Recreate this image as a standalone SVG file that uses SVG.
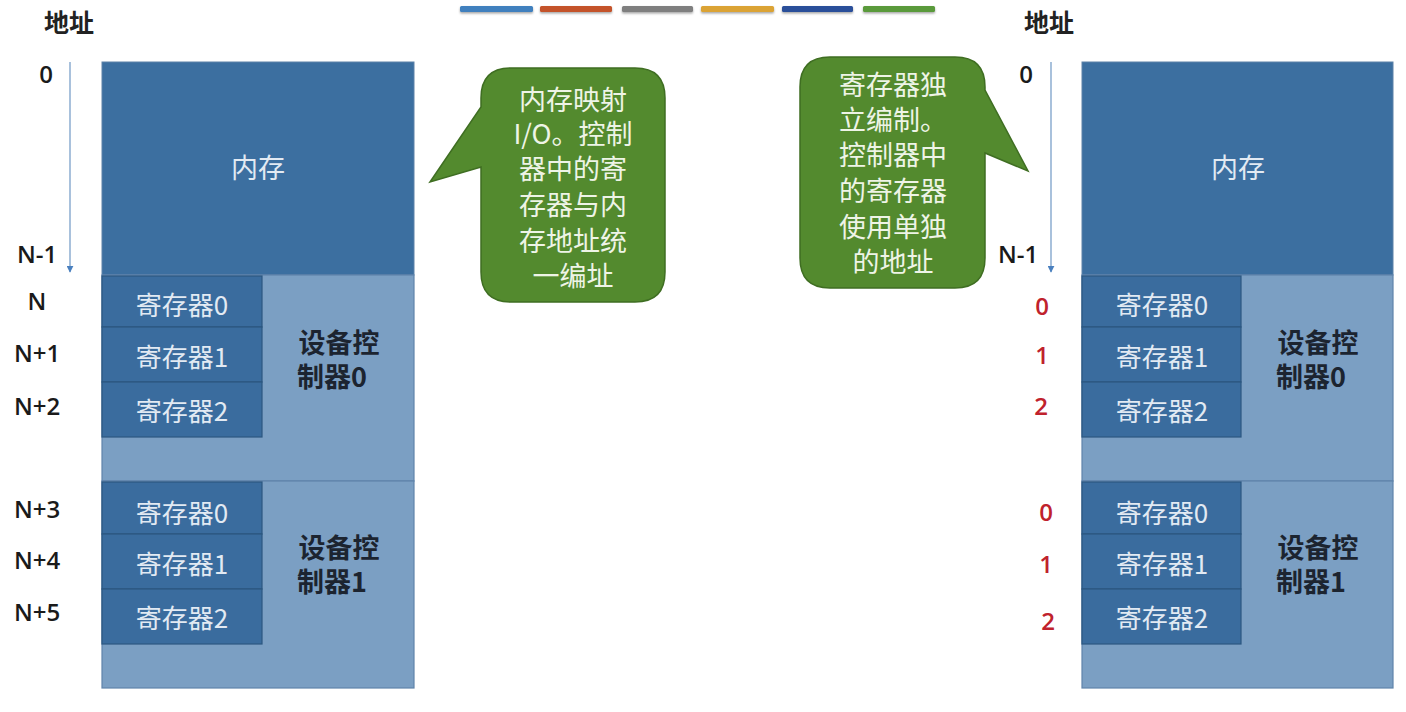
<svg xmlns="http://www.w3.org/2000/svg" width="1406" height="712" viewBox="0 0 1406 712">
<defs>
<style>
.bg{fill:#ffffff}
.mem{fill:#3c6fa0;stroke:#5c82a8;stroke-width:1}
.ctl{fill:#7b9fc3;stroke:#5f84ab;stroke-width:1.2}
.reg{fill:#3a6c9e;stroke:#2c5780;stroke-width:1.2}
.wt{font-family:"Noto Sans CJK SC","Noto Sans",sans-serif;fill:#e2eaf3;text-anchor:middle;dominant-baseline:central}
.dt{font-family:"Noto Sans CJK SC","Noto Sans",sans-serif;fill:#1c2430;text-anchor:middle;font-weight:bold;font-size:27px}
.lab{font-family:"Open Sans","Noto Sans CJK SC",sans-serif;fill:#1a1a1a;text-anchor:middle;dominant-baseline:central;font-size:24px;font-weight:600}
.red{font-family:"Open Sans","Noto Sans CJK SC",sans-serif;fill:#c0222c;text-anchor:middle;dominant-baseline:central;font-size:24px;font-weight:600}
.head{font-family:"Noto Sans CJK SC",sans-serif;fill:#222;text-anchor:middle;dominant-baseline:central;font-size:25px;font-weight:bold}
.call{fill:#538a2e;stroke:#3f6e22;stroke-width:1.5}
.ct{font-family:"Noto Sans CJK SC","Noto Sans",sans-serif;fill:#eef4e6;text-anchor:middle;font-size:27px}
.axis{stroke:#93b2d4;stroke-width:1.6;fill:none}
</style>
<marker id="ah" viewBox="0 0 10 10" refX="9" refY="5" markerWidth="7" markerHeight="7" orient="auto" markerUnits="userSpaceOnUse">
<path d="M0,0 L10,5 L0,10 z" fill="#4a80bf"/>
</marker>
<filter id="sh" x="-10%" y="-100%" width="120%" height="300%">
<feDropShadow dx="0" dy="1.5" stdDeviation="1.2" flood-color="#000" flood-opacity="0.35"/>
</filter>
</defs>
<rect class="bg" x="0" y="0" width="1406" height="712"/>

<g id="legend-bars" filter="url(#sh)">
<rect x="460" y="6" width="73" height="6" rx="1.5" fill="#4080be"/>
<rect x="540" y="6" width="72" height="6" rx="1.5" fill="#c4532a"/>
<rect x="622" y="6" width="71" height="6" rx="1.5" fill="#7f7f7f"/>
<rect x="701" y="6" width="73" height="6" rx="1.5" fill="#dba335"/>
<rect x="782" y="6" width="71" height="6" rx="1.5" fill="#2c4f9a"/>
<rect x="863" y="6" width="72" height="6" rx="1.5" fill="#5a9a3a"/>
</g>

<g id="left-labels">
<text class="head" x="69" y="21">地址</text>
<text class="lab" x="46" y="73">0</text>
<text class="lab" x="37" y="253">N-1</text>
<text class="lab" x="37" y="300">N</text>
<text class="lab" x="37" y="352">N+1</text>
<text class="lab" x="37" y="405">N+2</text>
<text class="lab" x="37" y="508">N+3</text>
<text class="lab" x="37" y="559">N+4</text>
<text class="lab" x="37" y="611">N+5</text>
</g>

<g id="right-labels">
<text class="head" x="1049" y="21">地址</text>
<text class="lab" x="1026" y="73">0</text>
<text class="lab" x="1018" y="253">N-1</text>
<text class="red" x="1042" y="305">0</text>
<text class="red" x="1042" y="354">1</text>
<text class="red" x="1041" y="405">2</text>
<text class="red" x="1046" y="511">0</text>
<text class="red" x="1046" y="563">1</text>
<text class="red" x="1048" y="620">2</text>
</g>

<g id="connectors">
<line class="axis" x1="70" y1="62" x2="70" y2="272" marker-end="url(#ah)"/>
<line class="axis" x1="1051" y1="62" x2="1051" y2="272" marker-end="url(#ah)"/>
</g>

<g id="left-memory">
<rect class="mem" x="102" y="62" width="312" height="213"/>
<text class="wt" x="258" y="166" font-size="27">内存</text>
</g>
<g id="left-controller0">
<rect class="ctl" x="102" y="275" width="312" height="206"/>
<text class="dt"><tspan x="339" y="353">设备控</tspan><tspan x="332" y="387">制器0</tspan></text>
</g>
<g id="left-c0-reg0"><rect class="reg" x="102" y="276" width="160" height="51"/><text class="wt" x="182" y="303" font-size="26">寄存器0</text></g>
<g id="left-c0-reg1"><rect class="reg" x="102" y="327" width="160" height="55"/><text class="wt" x="182" y="355" font-size="26">寄存器1</text></g>
<g id="left-c0-reg2"><rect class="reg" x="102" y="382" width="160" height="55"/><text class="wt" x="182" y="409" font-size="26">寄存器2</text></g>
<g id="left-controller1">
<rect class="ctl" x="102" y="481" width="312" height="207"/>
<text class="dt"><tspan x="339" y="558">设备控</tspan><tspan x="332" y="592">制器1</tspan></text>
</g>
<g id="left-c1-reg0"><rect class="reg" x="102" y="482" width="160" height="52"/><text class="wt" x="182" y="511" font-size="26">寄存器0</text></g>
<g id="left-c1-reg1"><rect class="reg" x="102" y="534" width="160" height="55"/><text class="wt" x="182" y="562" font-size="26">寄存器1</text></g>
<g id="left-c1-reg2"><rect class="reg" x="102" y="589" width="160" height="55"/><text class="wt" x="182" y="616" font-size="26">寄存器2</text></g>

<g id="right-memory">
<rect class="mem" x="1082" y="62" width="311" height="213"/>
<text class="wt" x="1238" y="166" font-size="27">内存</text>
</g>
<g id="right-controller0">
<rect class="ctl" x="1082" y="275" width="311" height="206"/>
<text class="dt"><tspan x="1318" y="353">设备控</tspan><tspan x="1311" y="387">制器0</tspan></text>
</g>
<g id="right-c0-reg0"><rect class="reg" x="1082" y="276" width="159" height="51"/><text class="wt" x="1162" y="303" font-size="26">寄存器0</text></g>
<g id="right-c0-reg1"><rect class="reg" x="1082" y="327" width="159" height="55"/><text class="wt" x="1162" y="355" font-size="26">寄存器1</text></g>
<g id="right-c0-reg2"><rect class="reg" x="1082" y="382" width="159" height="55"/><text class="wt" x="1162" y="409" font-size="26">寄存器2</text></g>
<g id="right-controller1">
<rect class="ctl" x="1082" y="481" width="311" height="207"/>
<text class="dt"><tspan x="1318" y="558">设备控</tspan><tspan x="1311" y="592">制器1</tspan></text>
</g>
<g id="right-c1-reg0"><rect class="reg" x="1082" y="482" width="159" height="52"/><text class="wt" x="1162" y="511" font-size="26">寄存器0</text></g>
<g id="right-c1-reg1"><rect class="reg" x="1082" y="534" width="159" height="55"/><text class="wt" x="1162" y="562" font-size="26">寄存器1</text></g>
<g id="right-c1-reg2"><rect class="reg" x="1082" y="589" width="159" height="55"/><text class="wt" x="1162" y="616" font-size="26">寄存器2</text></g>

<g id="callout-left">
<path class="call" d="M511,68 H635 Q665,68 665,98 V272 Q665,302 635,302 H511 Q481,302 481,272 V167 L430,182 L481,107 V98 Q481,68 511,68 Z"/>
<text class="ct"><tspan x="573" y="110">内存映射</tspan><tspan x="573" y="144">I/O。控制</tspan><tspan x="573" y="179">器中的寄</tspan><tspan x="573" y="215">存器与内</tspan><tspan x="573" y="251">存地址统</tspan><tspan x="573" y="286">一编址</tspan></text>
</g>

<g id="callout-right">
<path class="call" d="M830,57 H955 Q985,57 985,87 V90 L1028,171 L985,153 V258 Q985,288 955,288 H830 Q800,288 800,258 V87 Q800,57 830,57 Z"/>
<text class="ct"><tspan x="893" y="95">寄存器独</tspan><tspan x="893" y="130">立编制。</tspan><tspan x="893" y="165">控制器中</tspan><tspan x="893" y="201">的寄存器</tspan><tspan x="893" y="237">使用单独</tspan><tspan x="893" y="272">的地址</tspan></text>
</g>
</svg>
